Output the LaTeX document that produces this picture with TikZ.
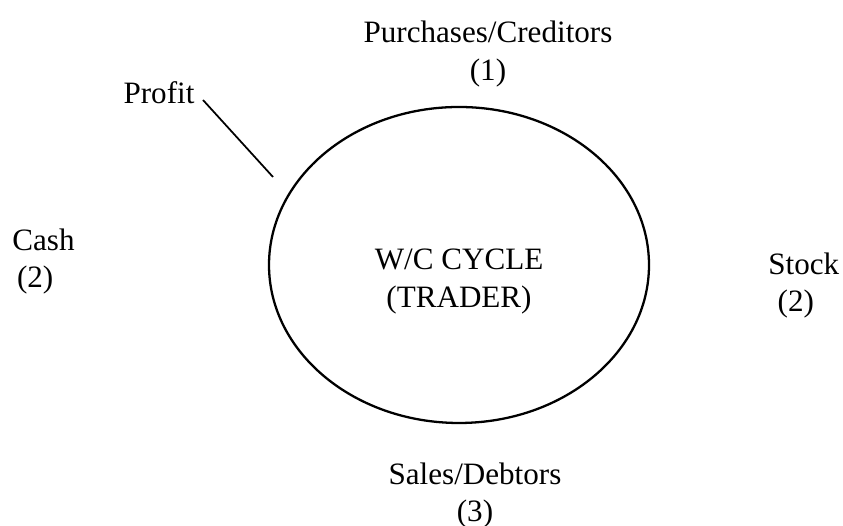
\documentclass[tikz,border=0pt]{standalone}
\usepackage{fontspec}
\setmainfont{Liberation Serif}

\begin{document}
\begin{tikzpicture}[lbl/.style={inner sep=0pt, font=\fontsize{17.7}{21.3}\selectfont}]
                \useasboundingbox (0,0) rectangle (16.86,10.52);
                \draw[line width=1.3pt] (9.18,5.22) ellipse (3.8 and 3.16);
                \node[lbl, align=center] (cycle) at (9.18,4.89) {W/C CYCLE\\(TRADER)};
                \node[lbl, align=center] (purch) at (9.76,9.44) {Purchases/Creditors\\(1)};
                \node[lbl, align=center] (sales) at (9.5,0.61) {Sales/Debtors\\(3)};
                \node[lbl, align=left, anchor=west] (cash) at (0.24,5.29) {Cash\\\hspace*{0.15em}(2)};
                \node[lbl, align=left, anchor=west] (stock) at (15.36,4.81) {Stock\\\hspace*{0.3em}(2)};
                \node[lbl] (profit) at (3.18,8.67) {Profit};
                \coordinate (pa) at (4.06,8.52);
                \coordinate (pb) at (5.46,6.98);
                \draw[line width=1pt] (pa) -- (pb);
            \end{tikzpicture}
\end{document}
